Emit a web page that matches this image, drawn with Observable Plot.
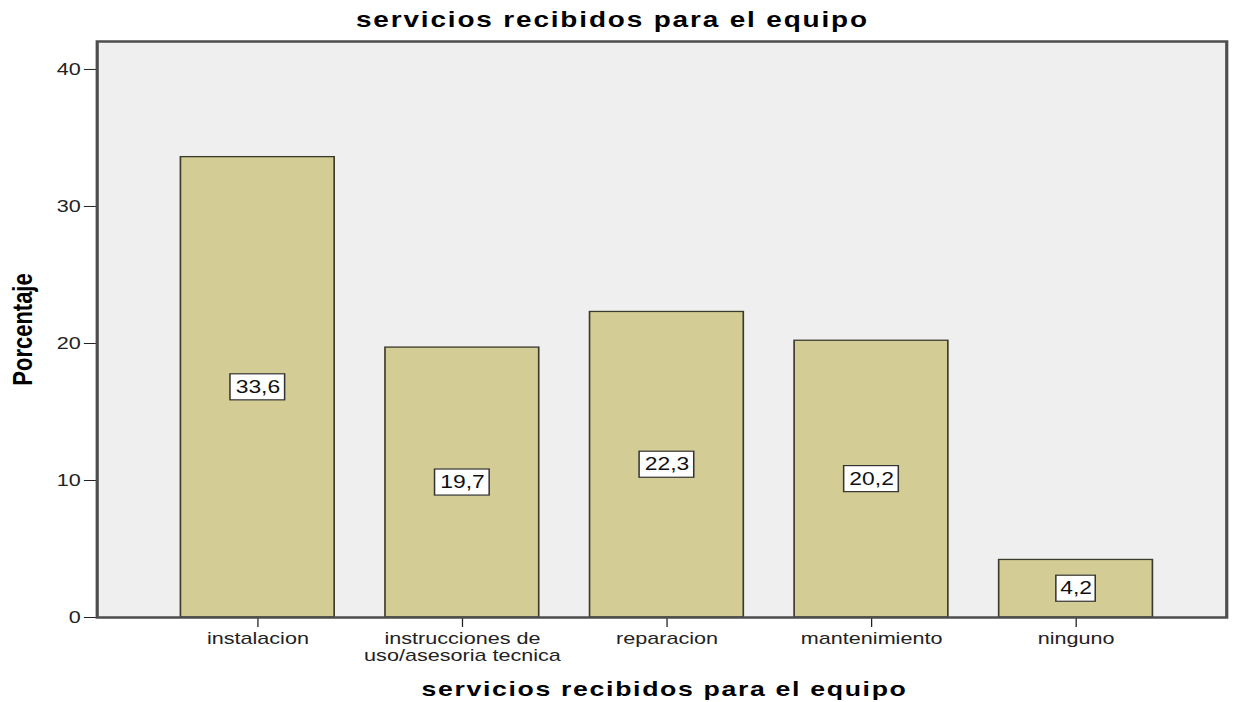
<!DOCTYPE html>
<html>
<head>
<meta charset="utf-8">
<script src="https://cdn.jsdelivr.net/npm/d3@7"></script>
<script src="https://cdn.jsdelivr.net/npm/@observablehq/plot@0.6"></script>
<style>
  html, body { margin: 0; padding: 0; background: #ffffff; }
  #chart svg { display: block; }
</style>
</head>
<body>
<div id="chart"></div>
<script>
// ---- data ----
const categories = ["instalacion", "instrucciones de uso/asesoria tecnica", "reparacion", "mantenimiento", "ninguno"];
const tickLabels = ["instalacion", "instrucciones de\nuso/asesoria tecnica", "reparacion", "mantenimiento", "ninguno"];
const percentages = [33.6, 19.7, 22.3, 20.2, 4.2];
const yTicks = [0, 10, 20, 30, 40];
const titleText = "servicios recibidos para el equipo";
const xLabel = "servicios recibidos para el equipo";
const yLabel = "Porcentaje";

const fmt = v => v.toFixed(1).replace(".", ",");
const data = categories.map((c, i) => ({category: c, value: percentages[i], label: fmt(percentages[i])}));

// The reference is horizontally stretched; draw at an inner width and stretch the SVG.
const W = 972, H = 702, OUT_W = 1235;
const font = "'Liberation Sans', Arial, Helvetica, sans-serif";

const chart = Plot.plot({
  width: W,
  height: H,
  marginLeft: 76,
  marginRight: 7,
  marginTop: 41,
  marginBottom: 85,
  style: {fontFamily: font, fontSize: "17px", color: "#1a1a1a", background: "#ffffff", overflow: "visible"},
  x: {domain: categories, paddingInner: 0.25, paddingOuter: 0.125, insetLeft: 45, insetRight: 37, axis: null},
  y: {domain: [0, 42.04], axis: null},
  marks: [
    Plot.frame({fill: "#efefef"}),
    Plot.barY(data, {x: "category", y: "value", fill: "#d3cd95", stroke: "#3b3a2c", strokeWidth: 1.3}),
    Plot.barY(data.filter(d => d.label.length > 3), {
      x: "category", y1: d => d.value / 2 - 0.95, y2: d => d.value / 2 + 0.95,
      fill: "#ffffff", stroke: "#333333", strokeWidth: 1.2, insetLeft: 39, insetRight: 39
    }),
    Plot.barY(data.filter(d => d.label.length <= 3), {
      x: "category", y1: d => d.value / 2 - 0.95, y2: d => d.value / 2 + 0.95,
      fill: "#ffffff", stroke: "#333333", strokeWidth: 1.2, insetLeft: 45, insetRight: 45
    }),
    Plot.text(data, {x: "category", y: d => d.value / 2, text: "label", fontSize: 18, fill: "#111111"}),
    Plot.axisX({
      tickSize: 10, tickPadding: 4, fontSize: 17, color: "#222222", label: null,
      tickFormat: d => tickLabels[categories.indexOf(d)]
    }),
    Plot.axisY({ticks: yTicks, tickSize: 10, tickPadding: 3, fontSize: 17, color: "#222222", label: null, tickFormat: d => String(d)}),
    Plot.frame({stroke: "#4d4d4d", strokeWidth: 2.5}),
    Plot.text([titleText], {frameAnchor: "top", dx: -39, dy: -30, fontSize: 22, fontWeight: "bold", fill: "#000000"}),
    Plot.text([xLabel], {frameAnchor: "bottom", dx: 2, dy: 78, fontSize: 21, fontWeight: "bold", fill: "#000000"}),
    Plot.text([yLabel], {frameAnchor: "left", textAnchor: "middle", rotate: -90, dx: -58, fontSize: 22, fontWeight: "bold", fill: "#000000"})
  ]
});

// letter spacing for the bold titles (reference uses widely spaced bold text)
d3.select(chart).selectAll("text").each(function() {
  const fs = this.parentNode && this.parentNode.getAttribute("font-size");
  if (this.textContent === titleText && fs == "22") this.style.letterSpacing = "1.45px";
  else if (this.textContent === xLabel && fs == "21") this.style.letterSpacing = "1.3px";
});

chart.setAttribute("width", OUT_W);
chart.setAttribute("height", H);
chart.setAttribute("preserveAspectRatio", "none");
chart.style.width = OUT_W + "px";
chart.style.height = H + "px";
chart.style.maxWidth = "none";

document.getElementById("chart").appendChild(chart);
</script>
</body>
</html>
